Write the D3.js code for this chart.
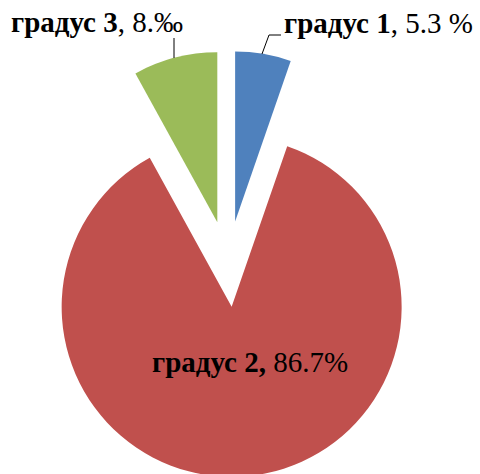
<!DOCTYPE html>
<html>
<head>
<meta charset="utf-8">
<script src="https://cdn.jsdelivr.net/npm/d3@7"></script>
<style>
  html, body { margin: 0; padding: 0; background: #ffffff; }
  svg { display: block; }
  text { font-family: "Liberation Serif", "Times New Roman", serif; fill: #000; }
</style>
</head>
<body>
<svg id="chart" width="480" height="474"></svg>
<script>
const categories = ["градус 1", "градус 2", "градус 3"];
const values = [5.3, 86.7, 8.0];
const valueLabels = ["5.3 %", "86.7%", "8.‰"];
const colors = ["#4F81BD", "#C0504D", "#9BBB59"];

const W = 480, H = 474;
const cx = 228, cy = 264, R = 170, explode = 43;
const fontSize = 29;

const svg = d3.select("#chart");
const g = svg.append("g").attr("transform", `translate(${cx},${cy})`);

const pie = d3.pie().sort(null).value(d => d.v).startAngle(0).endAngle(2 * Math.PI);
const data = categories.map((c, i) => ({ c, v: values[i], lab: valueLabels[i], col: colors[i] }));
const arcs = pie(data);
const arc = d3.arc().innerRadius(0).outerRadius(R);

function offset(a) {
  const m = (a.startAngle + a.endAngle) / 2;
  return [Math.sin(m) * explode, -Math.cos(m) * explode];
}

g.selectAll("path.slice")
  .data(arcs)
  .join("path")
  .attr("class", "slice")
  .attr("d", arc)
  .attr("fill", d => d.data.col)
  .attr("transform", d => { const o = offset(d); return `translate(${o[0]},${o[1]})`; });

// leader lines (in page coordinates)
const leaders = [
  [[262, 54], [269, 35], [281, 35]],
  null,
  [[174, 58], [174, 38]]
];
svg.selectAll("path.leader")
  .data(leaders.filter(l => l))
  .join("path")
  .attr("class", "leader")
  .attr("d", d => d3.line()(d))
  .attr("fill", "none")
  .attr("stroke", "#000")
  .attr("stroke-width", 1);

// labels
const labelPos = [[284, 33, false], [152, 372, true], [11, 32, false]];
data.forEach((d, i) => {
  const [x, y, boldComma] = labelPos[i];
  const t = svg.append("text").attr("x", x).attr("y", y).attr("font-size", fontSize);
  t.append("tspan").attr("font-weight", "bold").text(d.c + (boldComma ? "," : ""));
  t.append("tspan").text((boldComma ? " " : ", ") + d.lab);
});
</script>
</body>
</html>
